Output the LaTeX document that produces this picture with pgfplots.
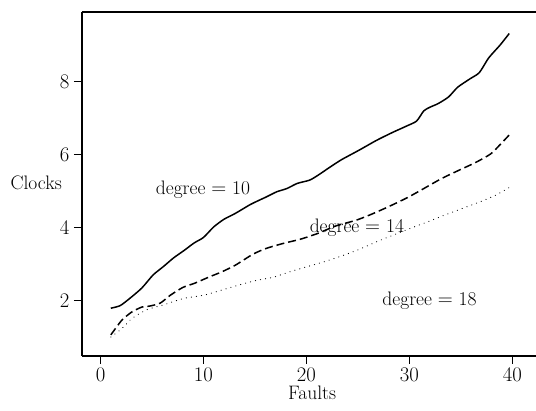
\documentclass[border=0pt]{standalone}
\usepackage{pgfplots}
\pgfplotsset{compat=1.18}

\newcommand{\bigfont}{\fontsize{19.5}{22}\selectfont}

\begin{document}
\begin{tikzpicture}
\useasboundingbox (0,0) rectangle (536pt,-411pt);
\begin{axis}[
    at={(82pt,-356pt)}, anchor=south west,
    scale only axis,
    width=454pt, height=344pt,
    xmin=-1.8, xmax=42.3,
    ymin=0.48, ymax=9.91,
    axis x line=box, axis y line=left,
    x axis line style={-}, y axis line style={-},
    axis line style={line width=1.1pt},
    xtick={0,10,20,30,40},
    ytick={2,4,6,8},
    xtick pos=lower, ytick pos=left,
    tick align=outside,
    major tick length=8pt,
    every tick/.style={black, line width=1pt},
    tick label style={font=\bigfont},
    xticklabel style={yshift=-1pt},
    yticklabel style={xshift=-1pt},
    xlabel={Faults},
    every axis x label/.style={at={(axis description cs:0.507,0)}, anchor=center, yshift=-37pt, font=\bigfont},
    ylabel={Clocks},
    every axis y label/.style={at={(axis description cs:-0.101,0.503)}, anchor=center, font=\bigfont},
]

% degree = 10
\addplot[black, line width=1.5pt, smooth, tension=0.4] coordinates {
  (1,1.79) (1.9,1.86) (2.8,2.05) (4,2.34) (5.1,2.70) (6.1,2.93)
  (7.1,3.17) (8.1,3.37) (9.1,3.58) (10,3.73) (11,4.02) (12,4.23)
  (13.1,4.39) (14.6,4.64) (16.1,4.84) (17.1,4.98) (18.1,5.07)
  (19.1,5.21) (20.3,5.30) (21.1,5.43) (22.3,5.66) (23.4,5.86)
  (25.1,6.12) (26.8,6.39) (28.3,6.60) (29.7,6.78) (30.7,6.92)
  (31.4,7.20) (32,7.30) (32.8,7.40) (33.8,7.58) (34.7,7.85)
  (35.9,8.08) (36.8,8.25) (37.7,8.65) (38.8,9.00) (39.7,9.32)
};

% degree = 14
\addplot[black, line width=1.5pt, dash pattern=on 8pt off 4pt, smooth, tension=0.4] coordinates {
  (1,1.06) (1.6,1.29) (2.1,1.47) (3,1.68) (4,1.82) (4.8,1.85)
  (5.8,1.93) (6.8,2.15) (8,2.36) (9.1,2.47) (10.5,2.64) (11.8,2.79)
  (13.1,2.97) (14.8,3.27) (16.1,3.43) (17.8,3.57) (19.4,3.68)
  (21.1,3.84) (22.8,4.04) (24.8,4.20) (26.1,4.34) (27.8,4.55)
  (29.8,4.82) (31.4,5.07) (33.1,5.34) (34.8,5.57) (36.4,5.78)
  (37.9,6.02) (38.9,6.30) (39.7,6.54)
};

% degree = 18
\addplot[black, line width=1.1pt, line cap=round, dash pattern=on 0.1pt off 5pt, smooth, tension=0.4] coordinates {
  (1,1.0) (2.1,1.24) (3.1,1.52) (4.5,1.75) (6.1,1.88) (8.1,2.06)
  (10.1,2.15) (11.8,2.29) (13.5,2.43) (15.1,2.55) (16.8,2.64)
  (18.4,2.79) (20.1,2.93) (21.8,3.07) (23.4,3.22) (25.1,3.40)
  (26.8,3.61) (28.4,3.79) (30.1,3.98) (31.8,4.16) (33.4,4.34)
  (35.1,4.52) (36.8,4.70) (38.4,4.89) (39.7,5.10)
};

\node[font=\bigfont] at (axis cs:9.95,5.03) {degree $=$ 10};
\node[font=\bigfont] at (axis cs:24.9,4.0) {degree $=$ 14};
\node[font=\bigfont] at (axis cs:31.96,2.0) {degree $=$ 18};
\end{axis}
\end{tikzpicture}
\end{document}
